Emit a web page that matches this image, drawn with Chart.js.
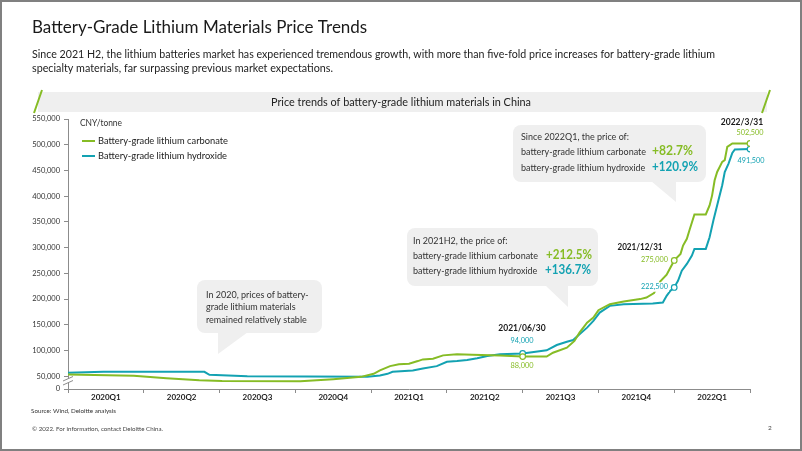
<!DOCTYPE html>
<html>
<head>
<meta charset="utf-8">
<title>Battery-Grade Lithium Materials Price Trends</title>
<script src="https://cdn.jsdelivr.net/npm/chart.js"></script>
<style>
  html, body { margin: 0; padding: 0; background: #fff; }
  #wrap { width: 802px; height: 451px; }
</style>
</head>
<body>
<div id="wrap"><canvas id="priceChart" width="802" height="451"></canvas></div>
<script>
// x values are months since 2020-01-01 (27 = 2022/3/31)
var carbonateMonths = [0, 2.6, 3.9, 5.2, 6.1, 9.2, 10.5, 11.6, 12.1, 12.35, 12.75, 13.1, 13.5, 13.85, 14.05, 14.45, 14.85, 15.4, 16.0, 17.1, 18, 18.95, 19.2, 19.75, 20.05, 20.25, 20.55, 20.8, 21.0, 21.45, 22.0, 22.65, 22.9, 23.2, 23.45, 23.7, 24, 24.25, 24.35, 24.5, 24.6, 24.8, 25.25, 25.4, 25.5, 25.6, 25.7, 25.9, 26.0, 26.1, 26.3, 27];
var carbonatePrices = [53300, 50600, 46100, 42200, 40600, 40200, 44100, 48600, 54500, 61100, 69500, 72900, 74000, 79300, 82600, 83800, 90400, 92400, 91600, 90000, 88000, 88000, 95500, 105300, 118400, 134600, 154100, 163900, 178300, 190000, 195100, 199800, 202900, 211500, 234200, 247300, 275000, 287700, 303900, 317000, 333200, 364400, 364400, 382000, 401500, 430800, 447000, 466600, 469900, 495900, 502500, 502500];
var hydroxideMonths = [0, 1.4, 5.4, 5.6, 7.1, 11.85, 12.35, 12.65, 12.85, 13.65, 14.05, 14.6, 15.0, 15.4, 15.8, 16.2, 16.6, 17.1, 18, 18.95, 19.35, 19.75, 20.0, 20.25, 20.55, 20.8, 21.05, 21.45, 22.0, 23.15, 23.55, 23.7, 23.85, 24, 24.15, 24.3, 24.5, 24.7, 24.8, 25.25, 25.4, 25.55, 25.75, 25.9, 26.0, 26.15, 26.3, 26.4, 27];
var hydroxidePrices = [56400, 58400, 58400, 52500, 50000, 49000, 51400, 54500, 58400, 61100, 65000, 69500, 77900, 79300, 81200, 84600, 89000, 92400, 94000, 100200, 110500, 117000, 120300, 131400, 144300, 157400, 173600, 186700, 190000, 191200, 193200, 206200, 216000, 222500, 235500, 255100, 268100, 284400, 297400, 297400, 320100, 352700, 391800, 421100, 447000, 463400, 484100, 490800, 491500];
var quarterLabels = ['2020Q1', '2020Q2', '2020Q3', '2020Q4', '2021Q1', '2021Q2', '2021Q3', '2021Q4', '2022Q1'];
var yTickValues = [50000, 100000, 150000, 200000, 250000, 300000, 350000, 400000, 450000, 500000, 550000];
var markerMonths = [18, 24, 27];

var GREEN = '#86bc25';
var TEAL = '#13a2b2';
var FONT = 'Lato, sans-serif';

function toPoints(xs, ys) {
  return xs.map(function (x, i) { return { x: x, y: ys[i] }; });
}

// tick positions every half quarter: quarter edges get marks, midpoints get labels
var quarterTicks = [];
for (var q = 0; q <= quarterLabels.length * 2; q++) quarterTicks.push(q * 1.5);

function txt(c, s, x, y, size, color, opts) {
  opts = opts || {};
  c.font = (opts.weight || 'normal') + ' ' + size + 'px ' + FONT;
  c.fillStyle = color;
  c.textAlign = opts.align || 'left';
  c.textBaseline = 'middle';
  if (opts.bg) {
    var w = Math.min(c.measureText(s).width, opts.maxW || 9999);
    var x0 = opts.align === 'right' ? x - w : (opts.align === 'center' ? x - w / 2 : x);
    c.save();
    c.fillStyle = opts.bg;
    c.fillRect(x0 - 1, y - size / 2 - 1, w + 2, size + 2);
    c.restore();
  }
  if (opts.maxW) c.fillText(s, x, y, opts.maxW); else c.fillText(s, x, y);
}

function bubble(c, x0, y0, x1, y1, tail) {
  var r = 8;
  c.save();
  c.fillStyle = '#efefef';
  c.beginPath();
  c.moveTo(x0 + r, y0);
  c.arcTo(x1, y0, x1, y1, r);
  c.arcTo(x1, y1, x0, y1, r);
  c.arcTo(x0, y1, x0, y0, r);
  c.arcTo(x0, y0, x1, y0, r);
  c.closePath();
  c.fill();
  c.beginPath();
  c.moveTo(tail[0][0], tail[0][1]);
  c.lineTo(tail[1][0], tail[1][1]);
  c.lineTo(tail[2][0], tail[2][1]);
  c.closePath();
  c.fill();
  c.restore();
}

var decorPlugin = {
  id: 'decor',
  beforeDatasetsDraw: function (chart) {
    var c = chart.ctx;
    bubble(c, 197, 280, 322, 333, [[218, 332], [248, 332], [218, 354]]);
    bubble(c, 407, 228, 598, 286, [[545, 285], [568, 285], [568, 307]]);
    bubble(c, 513, 125, 706, 182, [[651, 181], [676, 181], [676, 202]]);
  },
  afterDraw: function (chart) {
    var c = chart.ctx;
    c.save();
    // header
    txt(c, 'Battery-Grade Lithium Materials Price Trends', 32, 28, 17, '#1a1a1a', { maxW: 365 });
    txt(c, 'Since 2021 H2, the lithium batteries market has experienced tremendous growth, with more than five-fold price increases for battery-grade lithium', 32, 54, 11, '#222', { maxW: 683 });
    txt(c, 'specialty materials, far surpassing previous market expectations.', 32, 68, 11, '#222', { maxW: 301 });

    // banner
    c.fillStyle = '#efefef';
    c.fillRect(38, 92, 729, 20);
    c.strokeStyle = GREEN;
    c.lineWidth = 2;
    c.beginPath();
    c.moveTo(42, 90); c.lineTo(34, 113);
    c.moveTo(770, 90); c.lineTo(762, 113);
    c.stroke();
    txt(c, 'Price trends of battery-grade lithium materials in China', 401, 102, 11, '#222', { align: 'center', maxW: 260 });

    // unit + legend
    txt(c, 'CNY/tonne', 80, 123, 9.5, '#333', { maxW: 42 });
    c.lineWidth = 2;
    c.strokeStyle = GREEN;
    c.beginPath(); c.moveTo(82, 141); c.lineTo(95, 141); c.stroke();
    c.strokeStyle = TEAL;
    c.beginPath(); c.moveTo(82, 156); c.lineTo(95, 156); c.stroke();
    txt(c, 'Battery-grade lithium carbonate', 98, 141, 9.5, '#222', { maxW: 130 });
    txt(c, 'Battery-grade lithium hydroxide', 98, 156, 9.5, '#222', { maxW: 129 });

    // callout texts
    txt(c, 'In 2020, prices of battery-', 206, 295, 9, '#333', { maxW: 106 });
    txt(c, 'grade lithium materials', 206, 307, 9, '#333', { maxW: 95 });
    txt(c, 'remained relatively stable', 206, 320, 9, '#333', { maxW: 105 });

    txt(c, 'In 2021H2, the price of:', 413, 241, 9, '#333', { maxW: 95 });
    txt(c, 'battery-grade lithium carbonate', 413, 256, 9, '#333', { maxW: 129 });
    txt(c, '+212.5%', 546, 255, 13, GREEN, { weight: 'bold', maxW: 46 });
    txt(c, 'battery-grade lithium hydroxide', 413, 271, 9, '#333', { maxW: 129 });
    txt(c, '+136.7%', 545, 270, 13, TEAL, { weight: 'bold', maxW: 46 });

    txt(c, 'Since 2022Q1, the price of:', 521, 137, 9, '#333', { maxW: 108 });
    txt(c, 'battery-grade lithium carbonate', 521, 152, 9, '#333', { maxW: 129 });
    txt(c, '+82.7%', 652, 151, 13, GREEN, { weight: 'bold', maxW: 41 });
    txt(c, 'battery-grade lithium hydroxide', 521, 168, 9, '#333', { maxW: 129 });
    txt(c, '+120.9%', 652, 167, 13, TEAL, { weight: 'bold', maxW: 46 });

    // date + value labels
    txt(c, '2021/06/30', 522, 328, 8.5, '#1a1a1a', { align: 'center', weight: 'bold', maxW: 48 });
    txt(c, '94,000', 522, 341, 7.5, TEAL, { align: 'center', maxW: 23 });
    txt(c, '88,000', 522, 366, 7.5, GREEN, { align: 'center', maxW: 23 });
    txt(c, '2021/12/31', 640, 247, 8.5, '#1a1a1a', { align: 'center', weight: 'bold', maxW: 45 });
    txt(c, '275,000', 668, 260, 7.5, GREEN, { align: 'right', maxW: 27 });
    txt(c, '222,500', 668, 287, 7.5, TEAL, { align: 'right', maxW: 27, bg: '#fff' });
    txt(c, '2022/3/31', 742, 122, 8.5, '#1a1a1a', { align: 'center', weight: 'bold', maxW: 43 });
    txt(c, '502,500', 750, 133, 7.5, GREEN, { align: 'center', maxW: 27 });
    txt(c, '491,500', 751, 161, 7.5, TEAL, { align: 'center', maxW: 27 });

    // axis break
    c.fillStyle = '#fff';
    c.fillRect(63, 378, 10, 5);
    c.strokeStyle = '#8c8c8c';
    c.lineWidth = 1;
    c.beginPath();
    c.moveTo(63, 381); c.lineTo(73, 376.5);
    c.moveTo(63, 385); c.lineTo(73, 380.5);
    c.stroke();

    // footer
    txt(c, 'Source: Wind, Deloitte analysis', 31, 411, 6.5, '#333', { maxW: 85 });
    txt(c, '\u00a9 2022. For information, contact Deloitte China.', 32, 429, 6.5, '#444', { maxW: 131 });
    txt(c, '2', 768, 428, 6.5, '#444');

    // page frame
    c.strokeStyle = '#808080';
    c.lineWidth = 2;
    c.strokeRect(1, 1, 800, 449);
    c.restore();
  }
};

function markerRadius(ctx) {
  return ctx.raw && markerMonths.indexOf(ctx.raw.x) >= 0 ? 2.8 : 0;
}

new Chart(document.getElementById('priceChart'), {
  type: 'line',
  data: {
    datasets: [
      {
        label: 'Battery-grade lithium carbonate',
        data: toPoints(carbonateMonths, carbonatePrices),
        borderColor: GREEN,
        borderWidth: 2,
        pointRadius: markerRadius,
        pointBackgroundColor: '#fff',
        pointBorderColor: GREEN,
        pointBorderWidth: 1.2,
        tension: 0
      },
      {
        label: 'Battery-grade lithium hydroxide',
        data: toPoints(hydroxideMonths, hydroxidePrices),
        borderColor: TEAL,
        borderWidth: 2,
        pointRadius: markerRadius,
        pointBackgroundColor: '#fff',
        pointBorderColor: TEAL,
        pointBorderWidth: 1.2,
        tension: 0
      }
    ]
  },
  options: {
    responsive: false,
    animation: false,
    devicePixelRatio: 1,
    layout: { padding: { top: 119, right: 52, bottom: 0, left: 0 } },
    plugins: { legend: { display: false }, tooltip: { enabled: false } },
    scales: {
      x: {
        type: 'linear',
        min: 0,
        max: 27,
        afterBuildTicks: function (s) { s.ticks = quarterTicks.map(function (v) { return { value: v }; }); },
        afterFit: function (s) { s.height = 62; },
        ticks: {
          autoSkip: false,
          maxRotation: 0,
          padding: 0,
          color: '#222',
          font: { family: FONT, size: 8, weight: 'bold' },
          callback: function (v) {
            var i = (v - 1.5) / 3;
            return Number.isInteger(i) ? quarterLabels[i] : '';
          }
        },
        grid: {
          drawOnChartArea: false,
          tickLength: 4,
          tickColor: function (ctx) { return ctx.tick && ctx.tick.value % 3 === 0 ? '#8c8c8c' : 'rgba(0,0,0,0)'; }
        },
        border: { color: '#8c8c8c' }
      },
      y: {
        min: 25000,
        max: 550000,
        afterBuildTicks: function (s) { s.ticks = [25000].concat(yTickValues).map(function (v) { return { value: v }; }); },
        afterFit: function (s) { s.width = 68; },
        ticks: {
          padding: 4,
          color: '#333',
          font: { family: FONT, size: 7.5 },
          callback: function (v) { return v === 25000 ? '0' : v.toLocaleString('en-US'); }
        },
        grid: { drawOnChartArea: false, tickLength: 4, color: '#8c8c8c' },
        border: { color: '#8c8c8c' }
      }
    }
  },
  plugins: [decorPlugin]
});
</script>
</body>
</html>
